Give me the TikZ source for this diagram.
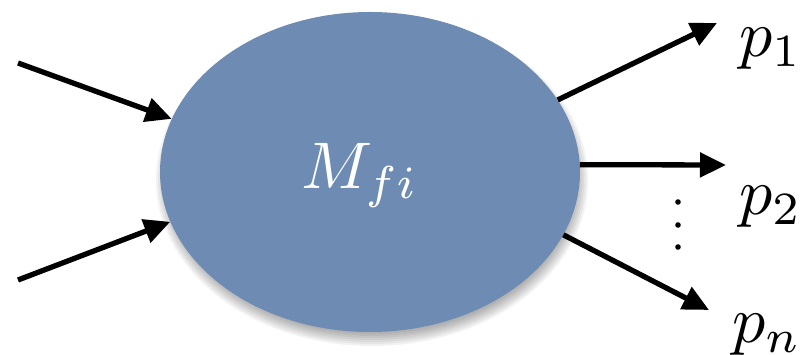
\documentclass[tikz,border=0pt]{standalone}
\usepackage{graphicx}
\usetikzlibrary{arrows.meta,shapes.geometric}

\definecolor{blobblue}{RGB}{110,139,179}

\newcommand{\bigmath}[1]{\scalebox{6.6}{\(#1\)}}

\begin{document}
\begin{tikzpicture}[
    x=1pt, y=1pt,
    blobstyle/.style={ellipse, fill=blobblue, minimum width=420pt, minimum height=320pt, inner sep=0pt},
    leg/.style={-{Triangle[length=26pt,width=24pt]}, line width=5.3pt},
    lbl/.style={anchor=base west, inner sep=0pt}
    ]

    \useasboundingbox (0,0) rectangle (804,355);

    % soft shadow under the blob
    \foreach \r in {-6,-4,...,6}
        \fill[black, opacity=0.05] (372,175) ellipse ({210+\r} and {160+\r});

    \node[blobstyle] (blob) at (370,183) {};
    \node[anchor=base, inner sep=0pt, text=white] (mfi) at (360,166) {\bigmath{M_{fi}}};

    \coordinate (in1) at (18,292);
    \coordinate (in2) at (18,75);
    \coordinate (out1) at (717,332);
    \coordinate (out2) at (726,190);
    \coordinate (out3) at (709,45);

    \draw[leg] (in1) -- (blob.165);
    \draw[leg] (in2) -- (blob.194);
    \draw[leg] (blob.21.8) -- (out1);
    \draw[leg] (blob.2) -- (out2);
    \draw[leg] (blob.-18) -- (out3);

    \node[lbl] (p1) at (739,298) {\bigmath{p_1}};
    \node[lbl] (p2) at (739,140) {\bigmath{p_2}};
    \node[lbl] (pn) at (732,12) {\bigmath{p_n}};

    % dots between p2 and pn
    \foreach \y in {153,130,108}
        \fill (678,\y) circle (2.8pt);

\end{tikzpicture}
\end{document}
